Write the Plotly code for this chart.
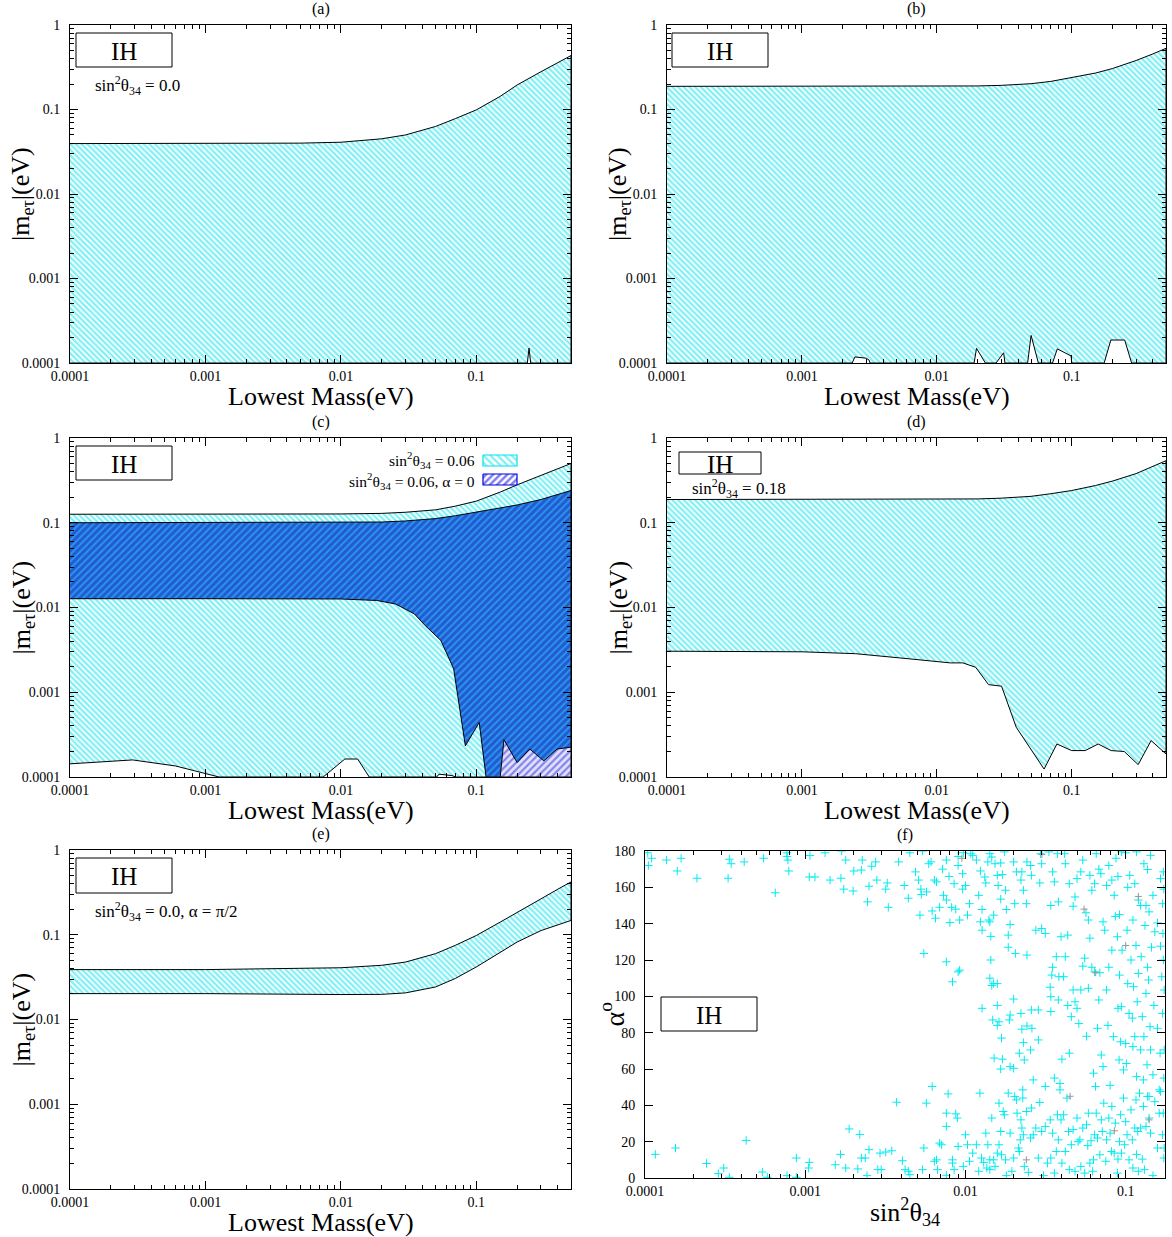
import math
import plotly.graph_objects as go

W, H = 1172, 1237
FONT = "Liberation Serif"
CYAN = "rgb(0,225,235)"
BLUE = "rgb(0,0,225)"

# ---------------- data ----------------
# (a) sin^2θ34 = 0.0
a_up_x = [1e-4, 1e-3, 5e-3, 0.01, 0.02, 0.03, 0.05, 0.07, 0.1, 0.15, 0.2, 0.3, 0.4, 0.5]
a_up_y = [0.0395, 0.0395, 0.040, 0.041, 0.045, 0.050, 0.063, 0.078, 0.099, 0.143, 0.195, 0.28, 0.36, 0.435]
a_lo_x = [1e-4, 0.238, 0.245, 0.252, 0.5]
a_lo_y = [1e-4, 1e-4, 0.00015, 1e-4, 1e-4]

# (b)
b_up_x = [1e-4, 1e-3, 0.01, 0.02, 0.03, 0.05, 0.07, 0.1, 0.15, 0.2, 0.3, 0.4, 0.5]
b_up_y = [0.188, 0.188, 0.189, 0.19, 0.193, 0.202, 0.215, 0.237, 0.27, 0.305, 0.38, 0.455, 0.53]
b_lo_x = [1e-4, 0.00236, 0.00247, 0.0030, 0.00315, 0.0032, 0.0189, 0.0197, 0.0229,
          0.0275, 0.0313, 0.0320, 0.0471, 0.050, 0.0566, 0.0721, 0.0782, 0.099, 0.1,
          0.174, 0.195, 0.247, 0.278, 0.5]
b_lo_y = [1e-4, 1e-4, 0.000118, 0.000114, 0.000108, 1e-4, 1e-4, 0.000149, 1e-4,
          1e-4, 0.000132, 1e-4, 1e-4, 0.000212, 1e-4, 1e-4, 0.000147, 0.000121, 1e-4,
          1e-4, 0.000187, 0.000187, 1e-4, 1e-4]

# (c) sin^2θ34 = 0.06 (cyan) and sin^2θ34 = 0.06, α = 0 (blue)
c_cy_up_x = [1e-4, 1e-3, 0.01, 0.02, 0.03, 0.05, 0.07, 0.1, 0.15, 0.2, 0.3, 0.4, 0.5]
c_cy_up_y = [0.126, 0.126, 0.127, 0.129, 0.133, 0.142, 0.157, 0.18, 0.23, 0.28, 0.36, 0.43, 0.50]
c_cy_lo_x = [1e-4, 0.00029, 0.0006, 0.00126, 0.0074, 0.0107, 0.0133, 0.0162, 0.051, 0.053,
             0.066, 0.07, 0.15, 0.16, 0.2, 0.248, 0.315, 0.395, 0.5]
c_cy_lo_y = [0.000143, 0.000159, 0.000135, 1e-4, 1e-4, 0.000163, 0.000163, 1e-4, 1e-4, 0.000108,
             0.000104, 1e-4, 1e-4, 0.000275, 0.000148, 0.000214, 0.000155, 0.000214, 0.000225]
c_bl_up_x = [1e-4, 1e-3, 0.01, 0.02, 0.03, 0.05, 0.07, 0.1, 0.15, 0.2, 0.3, 0.4, 0.5]
c_bl_up_y = [0.1, 0.1, 0.1005, 0.102, 0.105, 0.112, 0.121, 0.133, 0.148, 0.162, 0.188, 0.215, 0.24]
c_bl_lo_x = [1e-4, 1e-3, 0.01, 0.0184, 0.0253, 0.0349, 0.042, 0.0546, 0.068, 0.083, 0.105,
             0.118, 0.30, 0.31, 0.325, 0.5]
c_bl_lo_y = [0.0127, 0.0127, 0.0126, 0.0121, 0.011, 0.0084, 0.0061, 0.0041, 0.0019, 0.000233,
             0.00044, 1e-4, 1e-4, 0.000108, 1e-4, 1e-4]

# (d) sin^2θ34 = 0.18
d_up_x = [1e-4, 1e-3, 0.01, 0.02, 0.03, 0.05, 0.07, 0.1, 0.15, 0.2, 0.3, 0.4, 0.5]
d_up_y = [0.188, 0.188, 0.189, 0.191, 0.195, 0.205, 0.22, 0.24, 0.275, 0.31, 0.38, 0.46, 0.54]
d_lo_x = [1e-4, 1e-3, 0.0025, 0.00624, 0.0126, 0.0156, 0.0194, 0.0242, 0.0302, 0.0388,
          0.0624, 0.0777, 0.1, 0.126, 0.157, 0.196, 0.245, 0.311, 0.388, 0.5]
d_lo_y = [0.00305, 0.003, 0.00285, 0.00248, 0.00222, 0.00222, 0.00197, 0.00123, 0.00118, 0.000386,
          0.000124, 0.000245, 0.000205, 0.000205, 0.000245, 0.000205, 0.0002, 0.00014, 0.000269, 0.000187]

# (e) sin^2θ34 = 0.0, α = π/2
e_x = [1e-4, 1e-3, 0.01, 0.02, 0.03, 0.05, 0.07, 0.1, 0.15, 0.2, 0.3, 0.4, 0.5]
e_up_y = [0.0388, 0.0388, 0.0408, 0.0436, 0.0476, 0.0598, 0.075, 0.098, 0.141, 0.185, 0.265, 0.345, 0.42]
e_lo_y = [0.0202, 0.0202, 0.0197, 0.0198, 0.0206, 0.0242, 0.0305, 0.0417, 0.0625, 0.082, 0.112, 0.131, 0.1475]

# (f) scatter: (sin^2θ34, α in degrees)
f_points = [
    (0.000104, 179), (0.000105, 172), (0.00011, 176), (0.000136, 175), (0.000159, 169), (0.000168, 176),
    (0.000211, 165), (0.000336, 175.5), (0.000345, 173), (0.00033, 165), (0.000416, 174), (0.00055, 176),
    (0.00065, 157), (0.00077, 177), (0.00078, 175), (0.00079, 169), (0.00077, 179), (0.00107, 177.5),
    (0.00106, 165.7), (0.00115, 165.7), (0.00133, 179), (0.00143, 164), (0.00169, 180), (0.00167, 165),
    (0.00174, 159), (0.00179, 175), (0.00199, 158), (0.00201, 169), (0.00224, 169.5), (0.00227, 175),
    (0.00245, 152), (0.0025, 160.6), (0.0026, 171.6), (0.00275, 174), (0.0028, 164), (0.00318, 159),
    (0.00325, 162.4), (0.0033, 149), (0.00383, 174), (0.00415, 161), (0.0044, 154), (0.0045, 179),
    (0.00488, 168.5), (0.0051, 164), (0.0052, 144.7), (0.00527, 159), (0.0054, 180), (0.0053, 156),
    (0.00572, 157.5), (0.0059, 173), (0.0061, 174), (0.0062, 147), (0.0064, 164), (0.0065, 143),
    (0.0066, 163), (0.0069, 149), (0.0072, 170), (0.0073, 155.6), (0.0076, 153), (0.0076, 175),
    (0.0079, 166), (0.008, 140.6), (0.0082, 149), (0.0085, 162), (0.0087, 148), (0.0090, 177),
    (0.0090, 172), (0.0092, 142), (0.0096, 159), (0.0096, 167.5), (0.0097, 179), (0.010, 161),
    (0.0103, 144.7), (0.0106, 151), (0.0108, 178.5), (0.0111, 177.6), (0.0117, 175), (0.0121, 155.6),
    (0.0124, 169), (0.0127, 147.8), (0.0132, 165.7), (0.0134, 162.4), (0.0138, 174), (0.0140, 142),
    (0.0142, 178.5), (0.0142, 141), (0.0144, 133), (0.0146, 176.7), (0.015, 144.7), (0.0153, 173),
    (0.0158, 166.6), (0.016, 161), (0.0166, 173.4), (0.0166, 153.5), (0.017, 167), (0.0175, 179.5),
    (0.0178, 158.4), (0.018, 147.8), (0.0185, 133.7), (0.019, 139.5), (0.0200, 174), (0.0203, 151),
    (0.0208, 168.5), (0.0222, 164), (0.0225, 168.5), (0.023, 158.4), (0.0240, 151), (0.0242, 174),
    (0.0255, 172), (0.0258, 166.6), (0.0275, 136.4), (0.0291, 162.4), (0.0294, 178.5), (0.0299, 173),
    (0.0315, 134.6), (0.0332, 179.5), (0.0341, 150), (0.0350, 168.5), (0.0359, 163), (0.0375, 178.5),
    (0.0380, 152), (0.0395, 132.8), (0.0416, 178.5), (0.042, 173), (0.0445, 162), (0.047, 149.6),
    (0.0483, 154.7), (0.0497, 164.8), (0.0525, 168.5), (0.0540, 175), (0.0565, 146), (0.0585, 142),
    (0.0598, 166.6), (0.0615, 158.4), (0.064, 162), (0.0655, 178.5), (0.068, 170), (0.070, 167.5),
    (0.0722, 141), (0.076, 161), (0.0785, 172), (0.082, 164), (0.0848, 155.6), (0.087, 176),
    (0.0895, 166), (0.0915, 145), (0.094, 179.5), (0.100, 179), (0.103, 160), (0.106, 166.6),
    (0.111, 142), (0.114, 162), (0.117, 179.5), (0.120, 153), (0.124, 150), (0.130, 173),
    (0.134, 150), (0.137, 169.8), (0.140, 146.5), (0.143, 177.6), (0.148, 155.6), (0.158, 140.4),
    (0.165, 164.8), (0.170, 151), (0.172, 168.5), (0.173, 159),
    (0.0055, 123.6), (0.0076, 119), (0.0083, 108), (0.0090, 113.5), (0.0092, 114.4), (0.0127, 93.4),
    (0.0142, 110), (0.0144, 120), (0.0146, 106), (0.015, 107), (0.0148, 87), (0.0151, 66),
    (0.0158, 95), (0.0162, 86), (0.0158, 84), (0.0166, 60), (0.0168, 77), (0.017, 65.4),
    (0.0185, 127), (0.0188, 87), (0.019, 89.7), (0.019, 61.3), (0.0200, 60.4), (0.0200, 98.5),
    (0.0205, 123.6), (0.0217, 68.7), (0.0222, 90.6), (0.0225, 81.9), (0.0228, 48.5), (0.023, 74.5),
    (0.0233, 65), (0.0242, 122.7), (0.0255, 70.5), (0.0258, 92.5), (0.0265, 54), (0.0285, 92.5),
    (0.0285, 76), (0.0299, 137.3), (0.0315, 50.4), (0.0338, 105), (0.0341, 91.6), (0.0341, 99.8),
    (0.0346, 111.7), (0.035, 116), (0.0359, 55), (0.0369, 121.8), (0.038, 98), (0.0383, 110.8),
    (0.0389, 52), (0.04, 65.4), (0.041, 110.8), (0.042, 121.8), (0.0435, 95), (0.0435, 133.7),
    (0.0445, 68.7), (0.0458, 88.8), (0.047, 103.5), (0.0483, 97), (0.0497, 93.4), (0.051, 85),
    (0.0525, 103.5), (0.054, 116.6), (0.0555, 121), (0.057, 78), (0.0585, 104.4), (0.0598, 132),
    (0.0615, 116), (0.063, 57.7), (0.064, 113.5), (0.0648, 50.4), (0.0667, 82.4), (0.068, 98),
    (0.069, 113), (0.0705, 67.7), (0.0722, 61.3), (0.074, 136.4), (0.076, 103.5), (0.0775, 84),
    (0.0785, 116), (0.080, 51), (0.082, 125.4), (0.0838, 77.8), (0.0862, 144), (0.0888, 132.8),
    (0.0895, 93.4), (0.091, 65), (0.0915, 111.7), (0.093, 75), (0.094, 94.3), (0.095, 125.4),
    (0.097, 59.5), (0.100, 74), (0.101, 63), (0.102, 136.4), (0.103, 107), (0.105, 90.6),
    (0.108, 120), (0.11, 88), (0.111, 72.3), (0.112, 105.3), (0.114, 77.8), (0.116, 128),
    (0.117, 55.8), (0.118, 97), (0.120, 112.6), (0.122, 46.7), (0.124, 70.5), (0.125, 121.8),
    (0.127, 88.8), (0.129, 54), (0.130, 77.8), (0.132, 139), (0.134, 101.6), (0.136, 62.3),
    (0.137, 116), (0.139, 109), (0.140, 44.9), (0.142, 83.3), (0.143, 70.5), (0.145, 127),
    (0.148, 56.8), (0.150, 95), (0.152, 135.5), (0.158, 82.4), (0.162, 48.5), (0.164, 68.7),
    (0.165, 127.6), (0.168, 110.8), (0.170, 90.6), (0.171, 134.6), (0.172, 120), (0.173, 55),
    (0.174, 70.5), (0.174, 103.5), (0.0127, 136.4), (0.0124, 141), (0.0158, 107), (0.0242, 83.7),
    (0.026, 82.4),
    (0.000116, 13), (0.000155, 16.5), (0.000242, 8), (0.000287, 2.4), (0.00031, 5.5), (0.000336, 0.4),
    (0.000428, 20.7), (0.00054, 3.3), (0.00058, 0.4), (0.00077, 1.3), (0.00088, 11), (0.00106, 8.6),
    (0.00105, 5.5), (0.00088, 0.4), (0.00154, 7.3), (0.00166, 13), (0.00179, 5.5), (0.00188, 27),
    (0.00213, 5), (0.00219, 24), (0.00224, 11), (0.00237, 11), (0.0025, 15.6), (0.00243, 1.3),
    (0.00284, 4.6), (0.00298, 4.6), (0.00293, 13.7), (0.00318, 14.3), (0.00347, 15), (0.00372, 41.7),
    (0.00404, 9.5), (0.0042, 4.6), (0.0044, 3.7), (0.0045, 1.8), (0.0054, 4.6), (0.0055, 16.5),
    (0.0057, 41.2), (0.0062, 50.4), (0.0064, 9.2), (0.0066, 10), (0.0067, 4.6), (0.0069, 19.2),
    (0.0071, 18.3), (0.0076, 1.5), (0.0076, 28.4), (0.0078, 46.3), (0.0076, 35.7), (0.0083, 10),
    (0.0083, 8.2), (0.0085, 4.6), (0.0087, 35.3), (0.0089, 33), (0.0090, 17.4), (0.0097, 6.4),
    (0.0100, 23.8), (0.0103, 18.3), (0.0106, 9.2), (0.0111, 13.7), (0.0117, 18.3), (0.0121, 3.7),
    (0.0123, 46.7), (0.0126, 11), (0.013, 8.6), (0.0134, 24.7), (0.0136, 5.5), (0.0138, 18.3),
    (0.0142, 10), (0.0142, 4.6), (0.0146, 33), (0.015, 10), (0.0153, 6.4), (0.0158, 13.7),
    (0.0162, 41.2), (0.0162, 18.3), (0.0166, 25.6), (0.0168, 12.8), (0.0172, 36.6), (0.0175, 34.8),
    (0.0178, 10), (0.018, 1.3), (0.0185, 46.7), (0.019, 24.7), (0.0195, 3.7), (0.0200, 11),
    (0.0203, 44.9), (0.0208, 43), (0.021, 35.7), (0.0214, 16.5), (0.0217, 14.6), (0.022, 21),
    (0.0222, 32), (0.0225, 27.5), (0.0228, 44), (0.023, 23.8), (0.0233, 6.4), (0.024, 36.6),
    (0.0247, 3.1), (0.0255, 22), (0.0258, 38.5), (0.0265, 23.8), (0.0275, 27.5), (0.0285, 11),
    (0.0291, 41.6), (0.0299, 25.6), (0.0307, 1.3), (0.0315, 28.4), (0.0325, 8.2), (0.0338, 32),
    (0.0341, 11), (0.035, 24.7), (0.0359, 2.7), (0.0369, 14.6), (0.0375, 34.8), (0.038, 21),
    (0.0389, 48.5), (0.0395, 32), (0.040, 8.2), (0.041, 34.8), (0.042, 14.6), (0.043, 44),
    (0.044, 25.6), (0.0445, 4.6), (0.0458, 18.3), (0.047, 26.6), (0.0483, 3.7), (0.0497, 33),
    (0.0505, 20), (0.0518, 21), (0.0525, 6.4), (0.054, 27.5), (0.0555, 2.7), (0.057, 29.3),
    (0.058, 17.8), (0.0585, 35.7), (0.0598, 8.2), (0.0608, 20.5), (0.0622, 3.7), (0.063, 10),
    (0.064, 23.8), (0.0655, 35.7), (0.0667, 22), (0.069, 12.8), (0.0705, 32), (0.0715, 25.6),
    (0.073, 41.2), (0.0752, 9.2), (0.076, 21), (0.0785, 33), (0.080, 24.7), (0.0815, 14.6),
    (0.082, 39.4), (0.0848, 13.7), (0.0862, 30.2), (0.0888, 2.7), (0.0895, 10.4), (0.0915, 20),
    (0.093, 34.8), (0.094, 13.7), (0.097, 44), (0.0985, 18.3), (0.100, 31), (0.102, 23.8),
    (0.105, 10), (0.108, 37.5), (0.11, 21), (0.111, 5.5), (0.114, 27.5), (0.116, 43),
    (0.117, 13), (0.119, 25.6), (0.120, 3.7), (0.124, 27.5), (0.127, 10.4), (0.129, 39.4),
    (0.131, 4.6), (0.134, 28.4), (0.137, 44.9), (0.140, 33), (0.143, 24.7), (0.148, 1.3),
    (0.152, 42), (0.158, 16.5), (0.162, 35.7), (0.165, 47.6), (0.170, 23.8), (0.172, 35.7),
    (0.173, 11), (0.174, 16.5),
]
f_gray_points = [(0.0095, 176), (0.03, 178), (0.045, 45), (0.065, 113), (0.085, 26),
                 (0.1, 128), (0.12, 155), (0.14, 32), (0.024, 10), (0.055, 148)]

f_sin2 = [p[0] for p in f_points]
f_alpha = [p[1] for p in f_points]
g_sin2 = [p[0] for p in f_gray_points]
g_alpha = [p[1] for p in f_gray_points]

X_MAX = 0.5
F_X_MAX = 0.176

# ---------------- layout geometry (pixels: left, right, top, bottom) ----------------
BOX = {
    1: (70, 571, 25, 363),
    2: (667, 1166, 25, 363),
    3: (70, 571, 438, 777),
    4: (667, 1166, 438, 777),
    5: (70, 571, 850, 1189),
    6: (645, 1165, 851, 1178),
}


def px(x):
    return x / W


def py(y):
    return 1 - y / H


def dom(k):
    l, r, t, b = BOX[k]
    return [px(l), px(r)], [py(b), py(t)]


def minor_vals(lo_exp, hi):
    out = []
    for d in range(lo_exp, 1):
        for k in range(2, 10):
            v = k * 10 ** d
            if v <= hi:
                out.append(v)
    return out


COMMON = dict(ticks="inside", ticklen=8, tickwidth=1, tickcolor="black",
              showline=True, linecolor="black", linewidth=1, mirror="allticks",
              showgrid=False, zeroline=False, automargin=False,
              tickfont=dict(family=FONT, size=14, color="black"))


def log_x(k, hi):
    xd, _ = dom(k)
    return dict(type="log", domain=xd, anchor=f"y{k}", range=[-4, math.log10(hi)],
                tickvals=[1e-4, 1e-3, 1e-2, 1e-1], ticktext=["0.0001", "0.001", "0.01", "0.1"],
                minor=dict(tickvals=minor_vals(-4, hi), ticks="inside", ticklen=4,
                           tickcolor="black", showgrid=False),
                ticklabelstandoff=0, **COMMON)


def log_y(k):
    _, yd = dom(k)
    return dict(type="log", domain=yd, anchor=f"x{k}", range=[-4, 0],
                tickvals=[1e-4, 1e-3, 1e-2, 1e-1, 1], ticktext=["0.0001", "0.001", "0.01", "0.1", "1"],
                minor=dict(tickvals=minor_vals(-4, 0.95), ticks="inside", ticklen=4,
                           tickcolor="black", showgrid=False),
                ticklabelstandoff=6, **COMMON)


def band(ux, uy, lx, ly):
    return list(ux) + list(reversed(lx)), list(uy) + list(reversed(ly))


def cyan_trace(k, ux, uy, lx, ly):
    x, y = band(ux, uy, lx, ly)
    return go.Scatter(x=x, y=y, mode="lines", fill="toself", fillcolor="white",
                      fillpattern=dict(shape="\\", fgcolor=CYAN, bgcolor="white", size=4, solidity=0.55),
                      line=dict(color="black", width=1), xaxis=f"x{k}", yaxis=f"y{k}",
                      showlegend=False, hoverinfo="skip")


fig = go.Figure()
fig.add_trace(cyan_trace(1, a_up_x, a_up_y, a_lo_x, a_lo_y))
fig.add_trace(cyan_trace(2, b_up_x, b_up_y, b_lo_x, b_lo_y))
fig.add_trace(cyan_trace(3, c_cy_up_x, c_cy_up_y, c_cy_lo_x, c_cy_lo_y))

# blue band (drawn over the cyan band: blue lines on cyan)
bx, by = band(c_bl_up_x, c_bl_up_y, c_bl_lo_x, c_bl_lo_y)
fig.add_trace(go.Scatter(x=bx, y=by, mode="lines", fill="toself", fillcolor="rgb(40,140,230)",
                         fillpattern=dict(shape="/", fgcolor="rgb(30,30,185)", bgcolor="rgb(40,150,235)",
                                          size=5, solidity=0.6),
                         line=dict(color="black", width=1), xaxis="x3", yaxis="y3",
                         showlegend=False, hoverinfo="skip"))
# part of the blue band lying below the cyan band (blue lines on white)
i0 = c_cy_lo_x.index(0.15)
gx = c_cy_lo_x[i0:] + [c_cy_lo_x[-1], c_cy_lo_x[i0]]
gy = c_cy_lo_y[i0:] + [c_bl_lo_y[-1], c_bl_lo_y[-1]]
fig.add_trace(go.Scatter(x=gx, y=gy, mode="lines", fill="toself", fillcolor="white",
                         fillpattern=dict(shape="/", fgcolor="rgb(40,40,210)", bgcolor="rgb(225,225,255)",
                                          size=5, solidity=0.45),
                         line=dict(color="black", width=1), xaxis="x3", yaxis="y3",
                         showlegend=False, hoverinfo="skip"))

fig.add_trace(cyan_trace(4, d_up_x, d_up_y, d_lo_x, d_lo_y))
fig.add_trace(cyan_trace(5, e_x, e_up_y, e_x, e_lo_y))

fig.add_trace(go.Scatter(x=f_sin2, y=f_alpha, mode="markers", xaxis="x6", yaxis="y6",
                         marker=dict(symbol="cross-thin", size=6, line=dict(width=1, color="rgb(0,235,240)")),
                         showlegend=False, hoverinfo="skip"))
fig.add_trace(go.Scatter(x=g_sin2, y=g_alpha, mode="markers", xaxis="x6", yaxis="y6",
                         marker=dict(symbol="cross-thin", size=5, line=dict(width=1, color="rgb(150,150,150)")),
                         showlegend=False, hoverinfo="skip"))

# legend swatches for panel (c) drawn on an overlay axis spanning panel (c)
l3, r3, t3, b3 = BOX[3]


def fx(xp):
    return (xp - l3) / (r3 - l3)


def fy(yp):
    return (b3 - yp) / (b3 - t3)


sw_cy_x = [fx(483), fx(517), fx(517), fx(483), fx(483)]
sw_cy_y = [fy(455), fy(455), fy(466), fy(466), fy(455)]
sw_bl_x = sw_cy_x
sw_bl_y = [fy(474), fy(474), fy(485), fy(485), fy(474)]
fig.add_trace(go.Scatter(x=sw_cy_x, y=sw_cy_y, mode="lines", fill="toself", fillcolor="white",
                         fillpattern=dict(shape="\\", fgcolor=CYAN, bgcolor="white", size=5, solidity=0.45),
                         line=dict(color=CYAN, width=1.2), xaxis="x7", yaxis="y7",
                         showlegend=False, hoverinfo="skip"))
fig.add_trace(go.Scatter(x=sw_bl_x, y=sw_bl_y, mode="lines", fill="toself", fillcolor="white",
                         fillpattern=dict(shape="/", fgcolor=BLUE, bgcolor="white", size=5, solidity=0.5),
                         line=dict(color=BLUE, width=1.2), xaxis="x7", yaxis="y7",
                         showlegend=False, hoverinfo="skip"))

layout = dict(width=W, height=H, margin=dict(l=0, r=0, t=0, b=0, autoexpand=False),
              paper_bgcolor="white", plot_bgcolor="rgba(0,0,0,0)",
              font=dict(family=FONT, color="black"), showlegend=False)

for k in range(1, 6):
    layout[f"xaxis{k}"] = log_x(k, X_MAX)
    layout[f"yaxis{k}"] = log_y(k)

xd6, yd6 = dom(6)
layout["xaxis6"] = dict(type="log", domain=xd6, anchor="y6", range=[-4, math.log10(F_X_MAX)],
                        tickvals=[1e-4, 1e-3, 1e-2, 1e-1], ticktext=["0.0001", "0.001", "0.01", "0.1"],
                        minor=dict(tickvals=minor_vals(-4, F_X_MAX), ticks="inside", ticklen=4,
                                   tickcolor="black", showgrid=False),
                        ticklabelstandoff=0, **COMMON)
layout["yaxis6"] = dict(type="linear", domain=yd6, anchor="x6", range=[0, 180],
                        tickvals=list(range(0, 181, 20)), ticklabelstandoff=6, **COMMON)

xd3, yd3 = dom(3)
layout["xaxis7"] = dict(domain=xd3, anchor="y7", range=[0, 1], visible=False, fixedrange=True)
layout["yaxis7"] = dict(domain=yd3, anchor="x7", range=[0, 1], visible=False, fixedrange=True)

# ---------------- annotations & shapes ----------------
ann = []
shapes = []


def text(xp, yp, s, size, xanchor="center", yanchor="middle", angle=0):
    ann.append(dict(x=px(xp), y=py(yp), xref="paper", yref="paper", text=s, showarrow=False,
                    xanchor=xanchor, yanchor=yanchor, textangle=angle,
                    font=dict(family=FONT, size=size, color="black")))


labels = ["(a)", "(b)", "(c)", "(d)", "(e)", "(f)"]
for k, lab in zip(range(1, 7), labels):
    l, r, t, b = BOX[k]
    text((l + r) / 2, t - 16, lab, 16)

YT = "|m<sub>eτ</sub>|(eV)"
for k in range(1, 6):
    l, r, t, b = BOX[k]
    text((l + r) / 2, b + 33, "Lowest Mass(eV)", 26)
    text(l - 48, (t + b) / 2, YT, 26, angle=-90)

l6, r6, t6, b6 = BOX[6]
text((l6 + r6) / 2, b6 + 34, "sin<sup>2</sup>θ<sub>34</sub>", 26)
text(l6 - 32, (t6 + b6) / 2, "α<sup>o</sup>", 28, angle=-90)

# IH boxes
ih_boxes = [(76, 172, 33, 67), (672, 768, 33, 67), (76, 172, 446, 480),
            (679, 761, 452, 474), (76, 172, 858, 893), (661, 757, 997, 1031)]
for (x0, x1, y0, y1) in ih_boxes:
    shapes.append(dict(type="rect", xref="paper", yref="paper", x0=px(x0), x1=px(x1),
                       y0=py(y1), y1=py(y0), line=dict(color="black", width=1), fillcolor="white"))
    text((x0 + x1) / 2, (y0 + y1) / 2 + 1, "IH", 25)

text(93, 85, "sin<sup>2</sup>θ<sub>34</sub> = 0.0", 17, xanchor="left")
text(690, 489, "sin<sup>2</sup>θ<sub>34</sub> = 0.18", 17, xanchor="left")
text(93, 911, "sin<sup>2</sup>θ<sub>34</sub> = 0.0, α = π/2", 17, xanchor="left")
text(477, 460, "sin<sup>2</sup>θ<sub>34</sub> = 0.06", 15.5, xanchor="right")
text(477, 481, "sin<sup>2</sup>θ<sub>34</sub> = 0.06, α = 0", 15.5, xanchor="right")

layout["annotations"] = ann
layout["shapes"] = shapes
fig.update_layout(**layout)

fig.write_html("out.html", config={"displayModeBar": False},
               post_script="document.body.style.margin='0px';")
